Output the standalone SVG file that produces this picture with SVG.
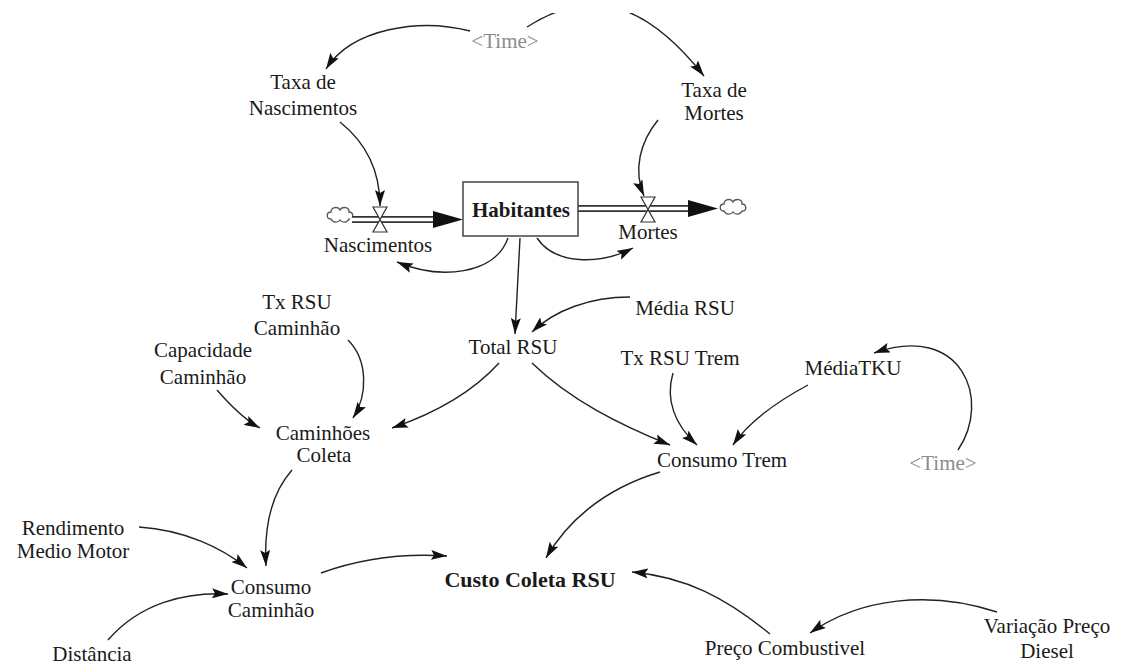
<svg xmlns="http://www.w3.org/2000/svg" width="1126" height="666" viewBox="0 0 1126 666">
<style>
text{font-family:"Liberation Serif","Times New Roman",serif;font-size:21px;fill:#1a1a1a;text-anchor:middle}
.shadow{fill:#8c8c8c}
.b{font-weight:bold}
.link{fill:none;stroke:#222;stroke-width:1.4;marker-end:url(#ah)}
.pipe{fill:none;stroke:#333;stroke-width:7}
.pipein{fill:none;stroke:#fff;stroke-width:3.6}
.cloud{fill:#fff;stroke:#555;stroke-width:1.3}
.valve{fill:#fff;stroke:#333;stroke-width:1.2}
</style>
<defs>
<marker id="ah" viewBox="0 0 16 10" refX="16" refY="5" markerWidth="16" markerHeight="10" markerUnits="userSpaceOnUse" orient="auto">
<path d="M0,0 L16,5 L0,10 L3,5 Z" fill="#111"/>
</marker>
<clipPath id="topclip"><rect x="0" y="13" width="1126" height="653"/></clipPath>
<path id="cloudshape" d="M-9,4 C-14,4 -14,-3 -9,-3 C-9,-8 -2,-9 0,-5 C2,-9 10,-8 9,-3 C14,-3 14,5 9,4 C7,8 2,8 0,5 C-2,8 -7,8 -9,4 Z"/>
</defs>
<rect width="1126" height="666" fill="#fff"/>

<g id="connectors">
<g clip-path="url(#topclip)">
<path class="link" d="M470,31 C420,18 352,28 326,69"/>
<path class="link" d="M527,27 C585,-10 640,-5 704,76"/>
</g>
<path class="link" d="M340,122 C365,142 380,170 380,206"/>
<path class="link" d="M658,120 C640,142 633,170 644,196"/>
<path class="link" d="M508,238 C495,275 440,280 397,262"/>
<path class="link" d="M537,238 C555,265 600,265 633,248"/>
<path class="link" d="M520,238 L515,334"/>
<path class="link" d="M630,297 C590,297 555,310 532,332"/>
<path class="link" d="M499,363 C470,395 430,415 392,428"/>
<path class="link" d="M348,340 C368,360 368,395 353,418"/>
<path class="link" d="M217,390 C230,405 245,420 260,428"/>
<path class="link" d="M532,363 C570,400 620,425 670,445"/>
<path class="link" d="M673,373 C665,400 675,425 697,445"/>
<path class="link" d="M808,385 C780,400 750,420 733,445"/>
<path class="link" d="M958,450 C992,400 962,322 874,353"/>
<path class="link" d="M292,470 C270,495 264,530 266,566"/>
<path class="link" d="M139,527 C185,530 222,548 247,568"/>
<path class="link" d="M108,640 C140,603 185,592 228,594"/>
<path class="link" d="M321,573 C362,558 402,553 447,556"/>
<path class="link" d="M660,472 C600,490 565,525 546,558"/>
<path class="link" d="M770,634 C726,598 686,577 632,572"/>
<path class="link" d="M997,612 C930,590 860,598 810,633"/>
</g>

<g id="flow-nascimentos">
<use href="#cloudshape" class="cloud" x="340" y="215"/>
<path class="pipe" d="M352,219.5 L436,219.5"/>
<path class="pipein" d="M350,219.5 L436,219.5"/>
<polygon points="433,211 463,219.5 433,228" fill="#111"/>
<path class="valve" d="M373,207 L387,207 L373,232 L387,232 Z"/>
<text x="378" y="252">Nascimentos</text>
</g>

<g id="flow-mortes">
<path class="pipe" d="M578,208.5 L690,208.5"/>
<path class="pipein" d="M576,208.5 L690,208.5"/>
<polygon points="688,200 718,208.5 688,217" fill="#111"/>
<use href="#cloudshape" class="cloud" x="733" y="207"/>
<path class="valve" d="M641,197 L655,197 L641,222 L655,222 Z"/>
<text x="648" y="239">Mortes</text>
</g>

<g id="habitantes">
<rect x="463" y="182" width="115" height="54" fill="#fff" stroke="#444" stroke-width="1.5"/>
<text class="b" x="521" y="217">Habitantes</text>
</g>

<g id="time-top"><text class="shadow" x="505" y="48">&lt;Time&gt;</text></g>
<g id="taxa-nascimentos"><text x="303" y="89">Taxa de</text><text x="303" y="115">Nascimentos</text></g>
<g id="taxa-mortes"><text x="714" y="97">Taxa de</text><text x="714" y="120">Mortes</text></g>
<g id="tx-rsu-caminhao"><text x="297" y="309">Tx RSU</text><text x="297" y="335">Caminhão</text></g>
<g id="capacidade-caminhao"><text x="203" y="357">Capacidade</text><text x="203" y="384">Caminhão</text></g>
<g id="total-rsu"><text x="513" y="354">Total RSU</text></g>
<g id="media-rsu"><text x="685" y="315">Média RSU</text></g>
<g id="tx-rsu-trem"><text x="680" y="365">Tx RSU Trem</text></g>
<g id="media-tku"><text x="853" y="375">MédiaTKU</text></g>
<g id="caminhoes-coleta"><text x="323" y="440">Caminhões</text><text x="324" y="462">Coleta</text></g>
<g id="consumo-trem"><text x="722" y="467">Consumo Trem</text></g>
<g id="time-right"><text class="shadow" x="943" y="470">&lt;Time&gt;</text></g>
<g id="rendimento"><text x="73" y="535">Rendimento</text><text x="73" y="558">Medio Motor</text></g>
<g id="consumo-caminhao"><text x="271" y="594">Consumo</text><text x="271" y="617">Caminhão</text></g>
<g id="custo-coleta"><text class="b" x="530" y="587" style="font-size:22px">Custo Coleta RSU</text></g>
<g id="distancia"><text x="92" y="661">Distância</text></g>
<g id="preco-combustivel"><text x="785" y="655">Preço Combustivel</text></g>
<g id="variacao-preco"><text x="1047" y="633">Variação Preço</text><text x="1047" y="658">Diesel</text></g>
</svg>
